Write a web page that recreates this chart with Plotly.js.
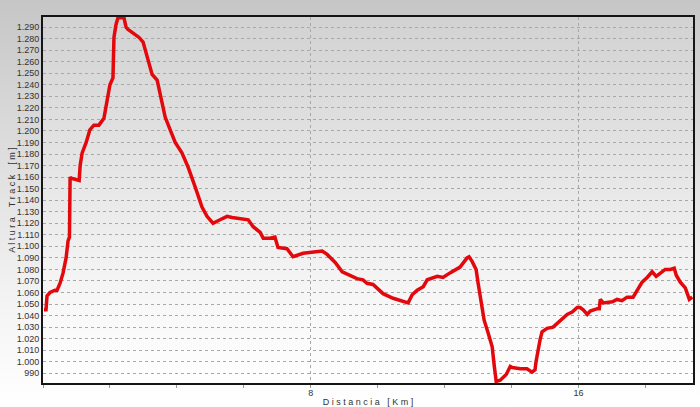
<!DOCTYPE html>
<html>
<head>
<meta charset="utf-8">
<script src="https://cdn.plot.ly/plotly-3.0.1.min.js"></script>
<style>
  html, body { margin: 0; padding: 0; }
  #wrap { position: relative; width: 700px; height: 407px;
          background: linear-gradient(to bottom, #c6c6c6 0%, #dcdcdc 35%, #f4f4f4 75%, #ffffff 100%); }
  #plotbg { position: absolute; left: 43px; top: 17px; width: 650px; height: 366px;
            background: linear-gradient(to bottom, #d2d2d2 0%, #e2e2e2 35%, #f8f8f8 80%, #ffffff 100%); }
  #chart { position: absolute; left: 0; top: 0; width: 700px; height: 407px; }
</style>
</head>
<body>
<div id="wrap">
  <div id="plotbg"></div>
  <div id="chart"></div>
</div>
<script>
// Distance along the track (km)
const distanceKm = [
  0.03, 0.09, 0.12, 0.21, 0.36, 0.42, 0.51, 0.60, 0.69, 0.75, 0.79, 0.81, 0.84, 1.08, 1.11,
  1.17, 1.29, 1.40, 1.52, 1.67, 1.82, 1.91, 2.00, 2.09, 2.12, 2.18, 2.24, 2.42, 2.48, 2.54,
  2.72, 2.87, 2.99, 3.26, 3.41, 3.50, 3.65, 3.80, 3.95, 4.15, 4.33, 4.54, 4.75, 4.90, 5.08,
  5.29, 5.50, 5.65, 5.89, 6.13, 6.28, 6.49, 6.58, 6.78, 6.93, 7.02, 7.29, 7.47, 7.77, 8.04,
  8.34, 8.49, 8.73, 8.94, 9.18, 9.38, 9.56, 9.68, 9.86, 10.16, 10.46, 10.91, 11.03, 11.18, 11.36,
  11.48, 11.78, 11.95, 12.16, 12.46, 12.67, 12.73, 12.82, 12.94, 13.00, 13.09, 13.18, 13.30, 13.36, 13.42,
  13.48, 13.54, 13.66, 13.84, 13.96, 14.02, 14.26, 14.46, 14.61, 14.70, 14.73, 14.79, 14.85, 14.91, 15.06,
  15.24, 15.39, 15.54, 15.66, 15.81, 15.96, 16.05, 16.14, 16.26, 16.35, 16.56, 16.62, 16.65, 16.74, 17.01,
  17.15, 17.30, 17.45, 17.63, 17.78, 17.90, 18.05, 18.20, 18.32, 18.44, 18.59, 18.74, 18.86, 18.92, 19.04,
  19.19, 19.31, 19.40
];
// Track altitude (m)
const altitudeM = [
  1045, 1045, 1057, 1060, 1062, 1062, 1068, 1077, 1090, 1105, 1108, 1160, 1159, 1157, 1170,
  1181, 1190, 1201, 1205, 1205, 1211, 1227, 1240, 1246, 1281, 1292, 1298, 1298, 1290, 1288,
  1284, 1281, 1277, 1249, 1244, 1233, 1212, 1201, 1190, 1181, 1169, 1152, 1134, 1126, 1120,
  1123, 1126, 1125, 1124, 1123, 1117, 1112, 1107, 1107, 1108, 1099, 1098, 1091, 1094, 1095,
  1096, 1093, 1086, 1078, 1075, 1072, 1071, 1068, 1067, 1059, 1055, 1051, 1058, 1062, 1065,
  1071, 1074, 1073, 1077, 1082, 1090, 1091, 1087, 1080, 1068, 1054, 1036, 1025, 1019, 1013,
  997, 983, 984, 989, 996, 995, 994, 994, 991, 993, 1000, 1012, 1019, 1026, 1029,
  1030, 1034, 1038, 1041, 1043, 1047, 1047, 1045, 1041, 1044, 1046, 1046, 1054, 1051, 1052,
  1054, 1053, 1056, 1056, 1064, 1069, 1073, 1078, 1074, 1077, 1080, 1080, 1081, 1075, 1069,
  1064, 1054, 1056
];
const xTickVals = [8, 16];
const xTickText = ['8', '16'];

const trace = {
  x: distanceKm, y: altitudeM, type: 'scatter', mode: 'lines',
  line: { color: '#e3080c', width: 3.5 }, hoverinfo: 'x+y'
};

const font = { family: 'Liberation Sans, Arial, sans-serif', size: 9, color: '#333' };

const layout = {
  width: 700, height: 407,
  margin: { l: 43, r: 7, t: 17, b: 24, pad: 0 },
  paper_bgcolor: 'rgba(0,0,0,0)', plot_bgcolor: 'rgba(0,0,0,0)',
  separators: ',.',
  showlegend: false,
  font: font,
  xaxis: {
    range: [0, 19.42], tickmode: 'array', tickvals: xTickVals, ticktext: xTickText,
    showgrid: true, gridcolor: '#a8a8a8', griddash: 'dot', gridwidth: 1,
    zeroline: false, showline: true, mirror: true, linecolor: '#151515', linewidth: 2,
    ticks: 'outside', ticklen: 3, tickcolor: '#999', tickfont: font, ticklabelstandoff: -3,
    minor: { tickmode: 'linear', tick0: 0, dtick: 2, ticks: 'outside', ticklen: 3, tickcolor: '#999', showgrid: false },
    title: { text: 'D i s t a n c i a \u00a0 [ K m ]', font: font, standoff: 4 }
  },
  yaxis: {
    range: [981.6, 1298.7], dtick: 10, tick0: 990, tickformat: ',d',
    showgrid: true, gridcolor: '#a8a8a8', griddash: 'dot', gridwidth: 1,
    zeroline: false, showline: true, mirror: true, linecolor: '#151515', linewidth: 2,
    ticks: '', tickfont: font,
    title: { text: 'A l t u r a \u00a0 \u00a0T r a c k \u00a0 \u00a0[ m ]', font: font, standoff: 0 }
  }
};

Plotly.newPlot('chart', [trace], layout, { displayModeBar: false, staticPlot: true });
</script>
</body>
</html>
